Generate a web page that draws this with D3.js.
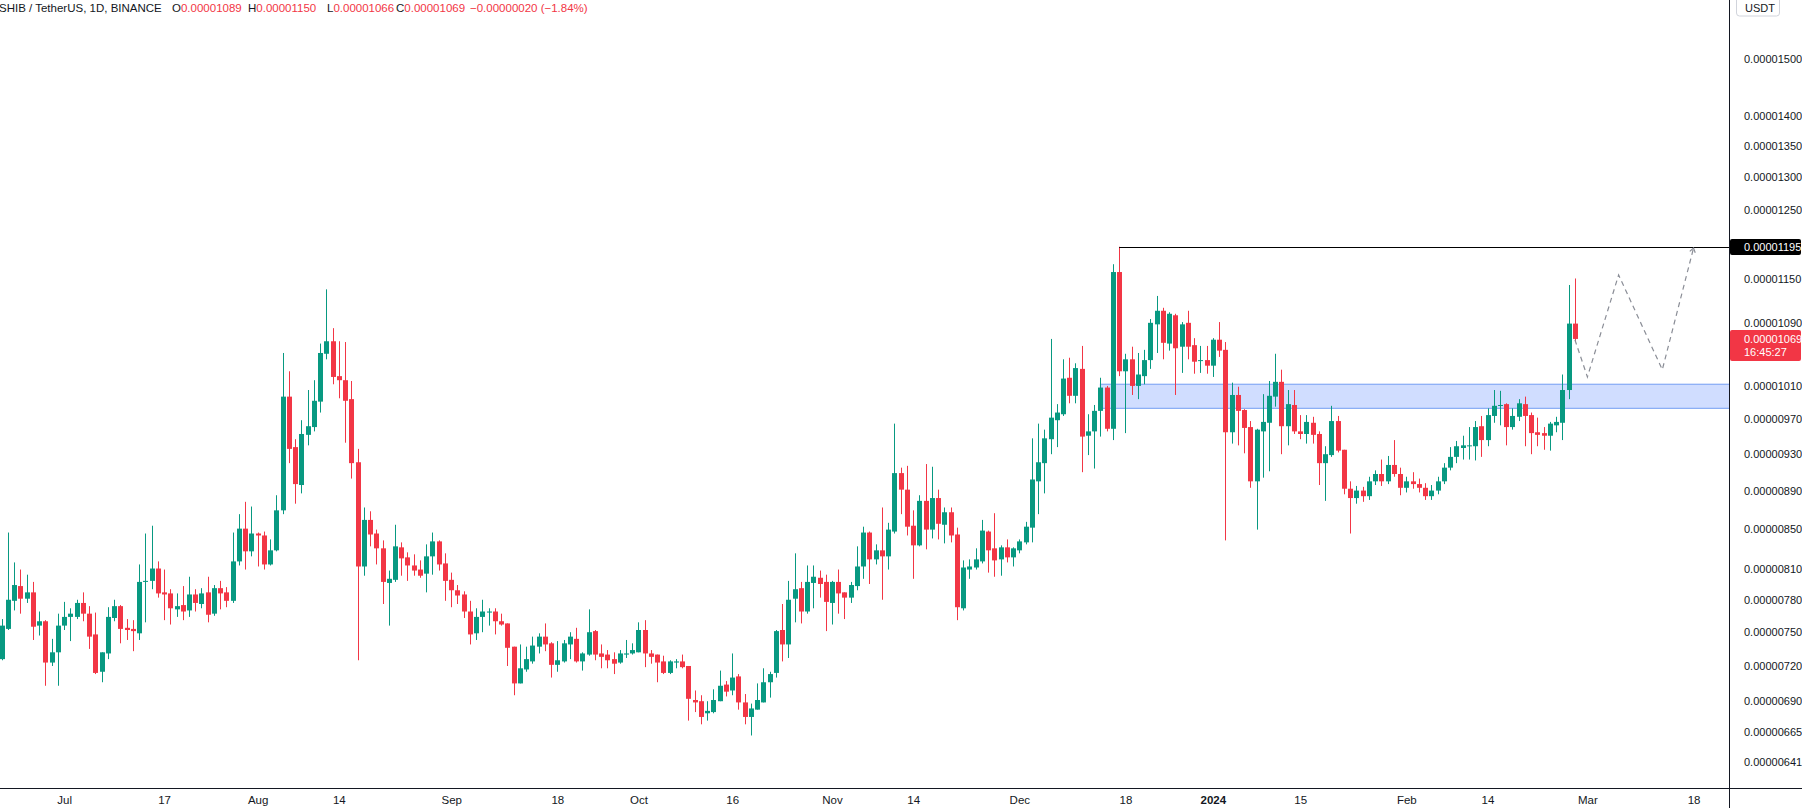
<!DOCTYPE html>
<html><head><meta charset="utf-8">
<script src="https://cdn.jsdelivr.net/npm/d3@7"></script>
<style>
body{margin:0;background:#fff;}
svg{display:block;font-family:"Liberation Sans",Arial,sans-serif;}
</style>
</head><body>
<svg id="chart" width="1802" height="808"></svg>
<script>
// ---- DATA (prices in units of 1e-8 USDT) ----
const UNIT = 1e-8;
const firstDay = "2023-06-21";           // first daily candle
const open = [
726,753,779,793,781,787,756,760,723,732,
756,764,764,777,767,748,715,731,763,774,
754,753,749,797,798,810,787,786,771,775,
770,785,776,787,767,791,787,779,817,850,
827,845,843,814,828,869,997,938,896,952,
961,991,1050,1066,1022,1017,994,921,812,859,
845,830,796,799,831,821,813,809,805,822,
837,815,799,789,785,769,749,764,768,769,
760,758,737,705,717,724,737,746,740,721,
724,739,744,724,730,751,731,730,726,723,
730,731,732,752,731,730,724,714,723,724,
720,691,690,680,681,690,704,699,711,689,
677,683,689,706,714,752,739,781,791,769,
796,801,797,777,797,787,782,793,812,846,
819,828,822,847,909,891,853,833,879,849,
882,854,867,844,772,809,811,817,847,830,
819,831,821,828,836,851,900,920,947,969,
976,1020,998,1031,951,956,980,1008,959,1159,
1028,1043,1010,1022,1042,1088,1106,1063,1100,1059,
1090,1061,1041,1042,1035,1068,1055,955,999,981,
961,900,956,966,997,1015,962,987,956,953,
966,953,920,929,968,935,892,882,890,884,
900,908,900,918,908,893,900,897,893,884,
890,900,915,927,937,939,939,962,946,974,
986,988,961,973,988,975,955,954,951,963,
966,1005,1089];
const high = [
762,846,816,809,804,797,769,761,744,767,
778,772,780,787,774,768,732,773,780,775,
762,761,814,845,853,817,809,790,786,793,
802,790,791,802,794,798,792,846,865,878,
873,846,847,839,885,1051,1028,947,969,1005,
1017,1063,1135,1083,1066,1065,1016,936,872,868,
849,838,808,854,836,826,824,818,834,846,
838,825,806,794,788,779,772,780,772,772,
767,758,737,739,737,746,749,758,741,742,
743,750,754,732,771,752,739,734,732,734,
743,740,759,761,734,730,729,725,726,730,
720,699,695,690,700,716,707,731,713,696,
688,705,718,715,752,776,798,825,797,813,
813,808,804,798,809,787,797,832,852,847,
834,872,856,965,915,917,869,885,919,916,
891,872,872,851,818,819,830,859,848,866,
833,839,831,839,857,948,965,958,1069,988,
1043,1045,1038,1060,976,987,1020,1010,1170,1195,
1050,1059,1051,1055,1095,1126,1110,1104,1102,1091,
1106,1070,1060,1060,1070,1091,1065,1014,1009,982,
968,959,1000,1016,1050,1030,1005,1005,975,975,
973,956,939,986,974,935,900,895,894,905,
912,924,928,946,915,905,910,903,898,896,
905,920,938,945,951,961,968,974,983,1005,
1004,989,983,994,997,978,972,961,967,973,
1024,1141,1150];
const low = [
725,752,770,767,777,743,747,703,720,703,
752,742,762,760,735,713,706,726,760,740,
743,733,743,759,790,782,761,757,764,761,
764,769,772,759,765,771,773,777,813,809,
822,812,809,813,827,865,920,876,887,940,
956,978,1043,1012,995,943,903,725,803,832,
814,776,756,797,803,798,803,801,787,804,
808,779,773,776,763,739,743,750,756,748,
756,720,695,705,715,722,731,733,710,715,
723,726,723,716,729,725,718,718,713,722,
727,730,732,719,722,706,713,713,718,718,
674,681,671,674,680,690,694,695,683,671,
662,683,689,693,710,724,727,759,758,767,
772,782,751,757,767,762,777,789,800,795,
814,780,809,845,865,843,800,832,829,840,
839,835,836,761,770,800,809,815,806,802,
803,816,812,825,834,836,865,887,930,938,
974,989,989,910,929,914,950,956,946,1022,
954,999,994,1012,1031,1051,1043,1054,999,1026,
1043,1025,1026,1025,1021,1046,838,942,940,931,
893,849,904,911,985,930,940,953,947,942,
942,896,879,927,932,886,845,876,878,880,
896,895,897,905,885,888,892,888,880,880,
886,897,912,920,924,924,923,927,939,966,
963,940,958,968,939,930,939,935,934,955,
946,994,1066];
const close = [
756,780,794,781,787,755,760,723,732,756,
764,767,777,767,746,714,732,764,774,753,
752,751,797,798,810,786,785,772,774,769,
785,777,786,766,791,786,779,817,850,827,
845,843,814,828,869,997,936,897,953,962,
992,1051,1066,1021,1017,992,920,812,859,844,
830,797,800,832,820,813,808,803,822,837,
814,798,789,784,769,748,764,769,769,760,
757,736,705,718,726,738,746,739,721,725,
740,746,724,731,750,730,728,725,722,731,
731,734,752,731,728,723,714,724,724,719,
692,689,677,682,691,703,698,710,689,677,
684,691,706,713,751,739,780,790,769,797,
802,795,778,797,786,782,794,812,846,819,
828,822,849,909,891,852,833,879,849,882,
855,867,843,773,811,812,819,848,828,818,
831,821,830,837,852,902,921,948,972,978,
1019,998,1032,950,956,980,1008,959,1159,1028,
1043,1010,1024,1042,1090,1106,1064,1102,1057,1088,
1059,1040,1042,1035,1068,1054,955,999,980,960,
900,958,967,998,1015,962,988,956,953,967,
952,920,930,968,934,892,882,890,884,900,
908,900,918,908,893,900,897,893,884,890,
900,915,927,939,940,940,961,946,975,986,
987,961,974,989,974,954,952,951,965,967,
1005,1089,1069];

const priceTicks = [1500,1400,1350,1300,1250,1150,1090,1010,970,930,890,850,810,780,750,720,690,665,641];
const timeTickDates  = ["2023-07-01","2023-07-17","2023-08-01","2023-08-14","2023-09-01","2023-09-18","2023-10-01","2023-10-16","2023-11-01","2023-11-14","2023-12-01","2023-12-18","2024-01-01","2024-01-15","2024-02-01","2024-02-14","2024-03-01","2024-03-18"];
const timeTickLabels = ["Jul","17","Aug","14","Sep","18","Oct","16","Nov","14","Dec","18","2024","15","Feb","14","Mar","18"];

const zoneStart = "2023-12-14", zoneTop = 1012, zoneBottom = 983;
const resistStart = "2023-12-17", resistLevel = 1195;
const projDates  = ["2024-02-28","2024-03-01","2024-03-06","2024-03-13","2024-03-18"];
const projPrices = [1068, 1021, 1155, 1030, 1193];

const symbolTitle = "SHIB / TetherUS, 1D, BINANCE";
const countdown = "16:45:27";

// ---- LAYOUT ----
const W = 1802, H = 808, plotR = 1729, plotB = 788;
const UP = "#089981", DOWN = "#f23645", TXT = "#131722";
const parse = d3.utcParse("%Y-%m-%d");
const day0 = parse(firstDay);
const dates = open.map((_, i) => d3.utcDay.offset(day0, i));

const x = d3.scaleUtc().domain([parse("2023-06-21"), parse("2024-03-01")]).range([1.7, 1587.4]);
const y = d3.scaleLog().domain([621.3, 1610.1]).range([plotB, 0]);
const fmt = v => (v * UNIT).toFixed(8);

const svg = d3.select("#chart");
svg.append("rect").attr("width", W).attr("height", H).attr("fill", "#fff");
svg.append("defs").append("clipPath").attr("id", "plot")
  .append("rect").attr("x", 0).attr("y", 0).attr("width", plotR).attr("height", plotB);
const plot = svg.append("g").attr("clip-path", "url(#plot)");

// zone
plot.append("rect")
  .attr("x", x(parse(zoneStart))).attr("y", y(zoneTop))
  .attr("width", plotR - x(parse(zoneStart)) + 2).attr("height", y(zoneBottom) - y(zoneTop))
  .attr("fill", "rgba(41,98,255,0.22)").attr("stroke", "#86aaf5").attr("stroke-width", 1.2);

// candles
const idx = d3.range(open.length);
const cx = i => Math.round(x(dates[i]));
const col = i => close[i] >= open[i] ? UP : DOWN;
plot.append("g").selectAll("line").data(idx).join("line")
  .attr("x1", i => cx(i) + 0.5).attr("x2", i => cx(i) + 0.5)
  .attr("y1", i => y(high[i])).attr("y2", i => y(low[i]))
  .attr("stroke", col).attr("stroke-width", 1);
plot.append("g").selectAll("rect").data(idx).join("rect")
  .attr("x", i => cx(i) - 2).attr("width", 5)
  .attr("y", i => y(Math.max(open[i], close[i])))
  .attr("height", i => Math.max(1, Math.abs(y(open[i]) - y(close[i]))))
  .attr("fill", col);

// resistance line
plot.append("line")
  .attr("x1", x(parse(resistStart))).attr("x2", plotR)
  .attr("y1", Math.round(y(resistLevel)) + 0.5).attr("y2", Math.round(y(resistLevel)) + 0.5)
  .attr("stroke", "#000").attr("stroke-width", 1.2);

// projection path
const pts = projDates.map((d, i) => [x(parse(d)), y(projPrices[i])]);
plot.append("path").attr("d", d3.line()(pts))
  .attr("fill", "none").attr("stroke", "#8a8d96").attr("stroke-width", 1.2)
  .attr("stroke-dasharray", "5,4");
{
  const [x1, y1] = pts[pts.length - 2], [x2, y2] = pts[pts.length - 1];
  const a = Math.atan2(y2 - y1, x2 - x1), L = 5;
  const p1 = [x2 - L * Math.cos(a - 0.6), y2 - L * Math.sin(a - 0.6)];
  const p2 = [x2 - L * Math.cos(a + 0.6), y2 - L * Math.sin(a + 0.6)];
  plot.append("path").attr("d", d3.line()([p1, [x2, y2], p2]))
    .attr("fill", "none").attr("stroke", "#8a8d96").attr("stroke-width", 1.2);
}

// axes lines
svg.append("line").attr("x1", plotR + 0.5).attr("x2", plotR + 0.5).attr("y1", 0).attr("y2", H)
  .attr("stroke", TXT).attr("stroke-width", 1);
svg.append("line").attr("x1", 0).attr("x2", W).attr("y1", plotB + 0.5).attr("y2", plotB + 0.5)
  .attr("stroke", TXT).attr("stroke-width", 1);

// price axis
const yAxis = svg.append("g").attr("transform", `translate(${plotR},0)`)
  .call(d3.axisRight(y).tickValues(priceTicks).tickFormat(fmt).tickSize(0).tickPadding(15));
yAxis.select(".domain").remove();
yAxis.selectAll("text").attr("fill", TXT).attr("font-size", 11).attr("font-family", "Liberation Sans, Arial, sans-serif");

// time axis
const xAxis = svg.append("g").attr("transform", `translate(0,${plotB})`)
  .call(d3.axisBottom(x).tickValues(timeTickDates.map(parse))
    .tickFormat((d, i) => timeTickLabels[i]).tickSize(0).tickPadding(8));
xAxis.select(".domain").remove();
xAxis.selectAll("text").attr("fill", TXT).attr("font-size", 11.5)
  .attr("font-family", "Liberation Sans, Arial, sans-serif")
  .attr("font-weight", (d, i) => timeTickLabels[i] === "2024" ? "bold" : null);

// USDT box
svg.append("rect").attr("x", 1736.5).attr("y", -4).attr("width", 43).attr("height", 20).attr("rx", 3)
  .attr("fill", "#fff").attr("stroke", "#d1d4dc");
svg.append("text").attr("x", 1745).attr("y", 11.5).attr("font-size", 11).attr("fill", TXT).text("USDT");

// resistance price label
{
  const yy = Math.round(y(resistLevel));
  svg.append("rect").attr("x", plotR + 1).attr("y", yy - 8).attr("width", W - plotR - 2).attr("height", 16)
    .attr("rx", 2).attr("fill", "#000");
  svg.append("text").attr("x", plotR + 15).attr("y", yy + 4).attr("font-size", 11).attr("fill", "#fff")
    .text(fmt(resistLevel));
}
// last price label
{
  const last = close[close.length - 1];
  const yy = Math.round(y(last));
  svg.append("rect").attr("x", plotR + 1).attr("y", yy - 9).attr("width", W - plotR - 2).attr("height", 31)
    .attr("rx", 2).attr("fill", DOWN);
  svg.append("text").attr("x", plotR + 15).attr("y", yy + 4).attr("font-size", 11).attr("fill", "#fff")
    .text(fmt(last));
  svg.append("text").attr("x", plotR + 15).attr("y", yy + 17).attr("font-size", 11).attr("fill", "#fff")
    .text(countdown);
}

// header
{
  const n = open.length - 1;
  const chg = close[n] - close[n - 1];
  const pct = chg / close[n - 1] * 100;
  const fs = 11.5;
  const clr = close[n] >= open[n] ? UP : DOWN;
  svg.append("text").attr("x", -1).attr("y", 11.5).attr("font-size", fs).attr("fill", TXT).text(symbolTitle);
  const parts = [["O", open[n]], ["H", high[n]], ["L", low[n]], ["C", close[n]]];
  const xs = [172, 248, 327, 396];
  parts.forEach((p, i) => {
    const t = svg.append("text").attr("x", xs[i]).attr("y", 11.5).attr("font-size", fs);
    t.append("tspan").attr("fill", TXT).text(p[0]);
    t.append("tspan").attr("fill", clr).text(fmt(p[1]));
  });
  const minus = "\u2212";
  svg.append("text").attr("x", 470).attr("y", 11.5).attr("font-size", fs).attr("fill", clr)
    .text((chg < 0 ? minus : "+") + fmt(Math.abs(chg)) + " (" + (pct < 0 ? minus : "+") + Math.abs(pct).toFixed(2) + "%)");
}
</script>
</body></html>
